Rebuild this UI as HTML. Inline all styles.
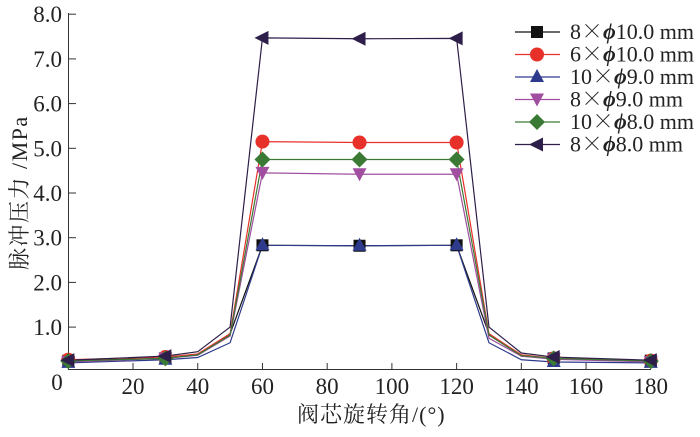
<!DOCTYPE html>
<html><head><meta charset="utf-8"><style>
body{margin:0;background:#fff;width:700px;height:432px;overflow:hidden}
svg text{font-family:"Liberation Serif","Noto Serif CJK SC",serif;fill:#222}
</style></head><body>
<svg id="s" width="700" height="432" xmlns="http://www.w3.org/2000/svg">
<line x1="68.5" y1="13" x2="68.5" y2="370" stroke="#333" stroke-width="1"/>
<line x1="68" y1="369.5" x2="651" y2="369.5" stroke="#333" stroke-width="1"/>
<g id="ticks"></g>
<g id="lines"></g>
<text x="0" y="0" font-size="22" letter-spacing="1.5" transform="translate(27,270) rotate(-90)">脉冲压力 /MPa</text>
<text x="297" y="422" font-size="22" letter-spacing="1">阀芯旋转角/(°)</text>
<g id="leg" font-size="22"></g>
</svg>
<script>
const NS="http://www.w3.org/2000/svg";
const X=x=>68.3+3.236*x, Y=v=>371.8-44.7*v;
function el(t,a,p,txt){const e=document.createElementNS(NS,t);for(const k in a)e.setAttribute(k,a[k]);if(txt!=null)e.textContent=txt;p.appendChild(e);return e;}
const tk=document.getElementById('ticks');
for(let i=1;i<=8;i++){const y=Y(i);el('line',{x1:68,y1:y,x2:76,y2:y,stroke:'#333'},tk);el('text',{x:62,y:y+8,'font-size':23,'text-anchor':'end'},tk,i.toFixed(1));}
el('text',{x:57,y:390,'font-size':23,'text-anchor':'middle'},tk,'0');
for(let x=20;x<=180;x+=20){const px=X(x);el('line',{x1:px,y1:369,x2:px,y2:363,stroke:'#333'},tk);el('text',{x:px,y:394,'font-size':23,'text-anchor':'middle'},tk,String(x));}
const xs=[0,30,40,50,60,90,120,130,140,150,180];
const S=[
 {c:'#111',m:'sq',lv:[0.25,0.3,0.38,0.85,2.83,2.82,2.83,0.85,0.35,0.3,0.25]},
 {c:'#e8302a',m:'ci',lv:[0.27,0.33,0.4,0.85,5.15,5.13,5.13,0.85,0.38,0.3,0.25]},
 {c:'#2e3a8c',m:'tu',lv:[0.2,0.27,0.32,0.65,2.83,2.82,2.83,0.65,0.27,0.22,0.2]},
 {c:'#a14ea0',m:'td',lv:[0.22,0.3,0.37,0.8,4.45,4.42,4.42,0.75,0.35,0.28,0.22]},
 {c:'#3a7a35',m:'di',lv:[0.24,0.3,0.38,0.82,4.75,4.75,4.75,0.82,0.36,0.3,0.24]},
 {c:'#2e1f4a',m:'tl',lv:[0.26,0.35,0.45,1.0,7.47,7.45,7.46,1.0,0.42,0.33,0.26]}
];
const ln=document.getElementById('lines');
function mark(m,x,y,c,p){
 if(m==='sq')el('rect',{x:x-6,y:y-6,width:12,height:12,fill:c},p);
 if(m==='ci')el('circle',{cx:x,cy:y,r:7,fill:c},p);
 if(m==='tu')el('polygon',{points:`${x},${y-8} ${x-7},${y+5} ${x+7},${y+5}`,fill:c},p);
 if(m==='td')el('polygon',{points:`${x},${y+7} ${x-7},${y-6} ${x+7},${y-6}`,fill:c},p);
 if(m==='di')el('polygon',{points:`${x},${y-8} ${x+8},${y} ${x},${y+8} ${x-8},${y}`,fill:c},p);
 if(m==='tl')el('polygon',{points:`${x-8},${y} ${x+6},${y-7} ${x+6},${y+7}`,fill:c},p);
}
S.forEach(s=>{el('polyline',{points:xs.map((x,i)=>X(x)+','+Y(s.lv[i])).join(' '),fill:'none',stroke:s.c,'stroke-width':1.2},ln);});
S.forEach(s=>{[0,30,60,90,120,150,180].forEach(x=>{mark(s.m,X(x),Y(s.lv[xs.indexOf(x)]),s.c,ln);});});
const lg=document.getElementById('leg');
const labs=[['8','10.0 mm'],['6','10.0 mm'],['10','9.0 mm'],['8','9.0 mm'],['10','8.0 mm'],['8','8.0 mm']];
S.forEach((s,i)=>{const y=32+i*22.5;el('line',{x1:515,y1:y,x2:560,y2:y,stroke:s.c,'stroke-width':1.2},lg);mark(s.m,537,y,s.c,lg);
 const t=el('text',{x:570,y:y+7,'font-size':22},lg);
 el('tspan',{},t,labs[i][0]);
 el('tspan',{'font-family':'Noto Serif CJK SC, serif'},t,'×');
 el('tspan',{'font-style':'italic','font-weight':'bold'},t,'ϕ');
 el('tspan',{},t,labs[i][1]);
});
</script>
</body></html>
